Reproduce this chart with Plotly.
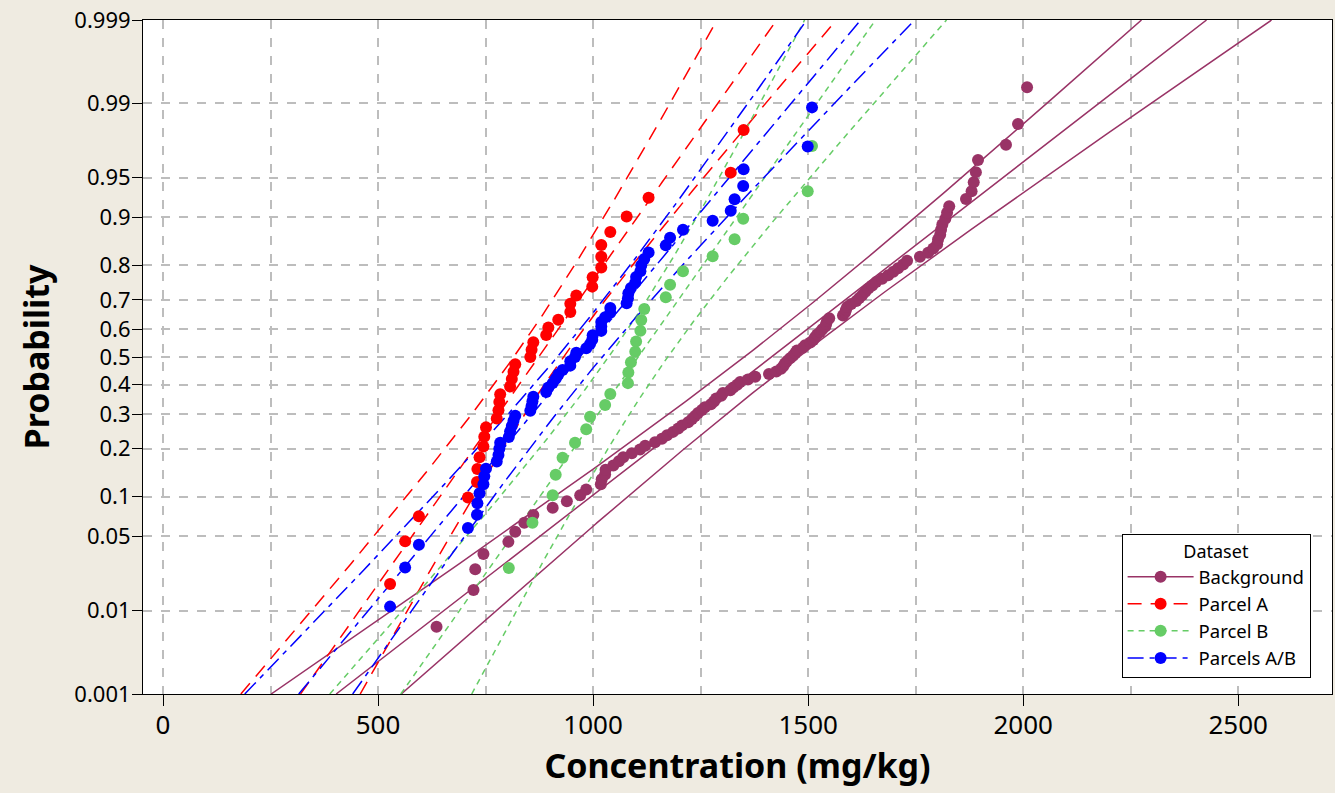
import numpy as np
import plotly.graph_objects as go
from statistics import NormalDist

nd = NormalDist()

# concentrations (mg/kg)
background = [636, 722, 726, 745, 803, 819, 840, 861, 906, 939,
              970, 984, 1018, 1020, 1028, 1029, 1047, 1060, 1070, 1090,
              1109, 1121, 1144, 1160, 1172, 1186, 1198, 1207, 1221, 1230,
              1237, 1244, 1253, 1260, 1274, 1281, 1286, 1298, 1302, 1319,
              1326, 1335, 1342, 1360, 1377, 1409, 1426, 1437, 1442, 1446,
              1451, 1458, 1465, 1470, 1474, 1488, 1493, 1505, 1512, 1516,
              1521, 1528, 1533, 1540, 1542, 1544, 1549, 1581, 1586, 1588,
              1591, 1600, 1612, 1619, 1626, 1633, 1640, 1649, 1658, 1672,
              1686, 1698, 1709, 1721, 1730, 1760, 1779, 1791, 1800, 1802,
              1807, 1809, 1812, 1819, 1823, 1828, 1867, 1880, 1885, 1890,
              1895, 1960, 1988, 2009]
parcel_a = [528, 563, 595, 709, 730, 731, 736, 745, 747, 751,
            776, 780, 782, 784, 807, 811, 815, 819, 854, 857,
            861, 891, 896, 919, 947, 947, 961, 998, 999, 1019,
            1019, 1019, 1040, 1078, 1129, 1320, 1350]
parcel_b = [804, 859, 906, 913, 929, 958, 984, 993, 1028, 1040,
            1081, 1082, 1088, 1098, 1100, 1110, 1112, 1119, 1169, 1179,
            1209, 1278, 1329, 1349, 1499, 1509]
parcels_ab = parcel_a + parcel_b

prob_ticks = [0.001, 0.01, 0.05, 0.1, 0.2, 0.3, 0.4, 0.5, 0.6, 0.7, 0.8, 0.9, 0.95, 0.99, 0.999]
prob_labels = ["0.001", "0.01", "0.05", "0.1", "0.2", "0.3", "0.4", "0.5",
               "0.6", "0.7", "0.8", "0.9", "0.95", "0.99", "0.999"]
x_ticks = [0, 500, 1000, 1500, 2000, 2500]

z_lo, z_hi = nd.inv_cdf(0.001), nd.inv_cdf(0.999)


def plot_positions(vals):
    # median ranks (Benard)
    v = np.sort(np.asarray(vals, float))
    n = len(v)
    p = (np.arange(1, n + 1) - 0.3) / (n + 0.4)
    return v, [nd.inv_cdf(q) for q in p]


def fit_lines(vals):
    v = np.asarray(vals, float)
    n = len(v)
    mu, sd = v.mean(), v.std(ddof=1)
    z = np.linspace(z_lo, z_hi, 300)
    mid = mu + z * sd
    half = 1.96 * sd * np.sqrt((1 + z ** 2 / 2) / n)
    return z, mid, mid - half, mid + half


datasets = [
    ("Background", background, "#993366", "solid", 1.5),
    ("Parcel A", parcel_a, "#ff0000", "14px,9px", 1.5),
    ("Parcel B", parcel_b, "#66cc66", "6px,5px", 1.5),
    ("Parcels A/B", parcels_ab, "#0000ff", "16px,6px,5px,6px", 1.5),
]

fig = go.Figure()

for name, vals, color, dash, lw in datasets:
    z, mid, lo, hi = fit_lines(vals)
    for xs in (mid, lo, hi):
        fig.add_trace(go.Scatter(x=xs, y=z, mode="lines", showlegend=False,
                                 line=dict(color=color, width=lw, dash=dash),
                                 hoverinfo="skip"))

for name, vals, color, dash, lw in datasets:
    xs, zs = plot_positions(vals)
    fig.add_trace(go.Scatter(x=xs, y=zs, mode="markers", showlegend=False,
                             marker=dict(color=color, size=12), name=name))
    # legend entry
    fig.add_trace(go.Scatter(x=[None], y=[None], mode="lines+markers", name=name,
                             marker=dict(color=color, size=12),
                             line=dict(color=color, width=lw, dash=dash)))

grid = "#bdbdbd"
bg = "#efebe1"
fig.update_layout(
    width=1335, height=793,
    margin=dict(l=143, r=3, t=20, b=99),
    paper_bgcolor=bg,
    plot_bgcolor="white",
    font=dict(family="Noto Sans, DejaVu Sans, sans-serif", color="black"),
    legend=dict(
        title=dict(text="Dataset", side="top center", font=dict(size=18)),
        font=dict(size=18.5),
        x=0.982, y=0.024, xanchor="right", yanchor="bottom",
        bgcolor="white", bordercolor="black", borderwidth=1,
        itemwidth=66,
    ),
)
fig.update_xaxes(
    range=[-46.5, 2718], tickvals=x_ticks, ticks="outside", ticklen=11,
    tickcolor="black", tickfont=dict(size=26), automargin=False, ticklabelstandoff=-3,
    showline=True, linecolor="black", mirror=True, zeroline=False,
    showgrid=True, gridcolor=grid, griddash="dash", gridwidth=1.5,
    minor=dict(dtick=250, tick0=0, showgrid=True, gridcolor=grid, griddash="dash", gridwidth=1.5),
    title=dict(text="<b>Concentration (mg/kg)</b>", font=dict(size=34), standoff=11),
)
fig.update_yaxes(
    range=[z_lo, z_hi], tickvals=[nd.inv_cdf(p) for p in prob_ticks], ticktext=prob_labels,
    ticks="outside", ticklen=10, tickcolor="black", tickfont=dict(size=22), automargin=False,
    ticklabelstandoff=-3,
    showline=True, linecolor="black", mirror=True, zeroline=False,
    showgrid=True, gridcolor=grid, griddash="dash", gridwidth=1.5,
    title=dict(text="<b>Probability</b>", font=dict(size=34), standoff=14),
)

fig.write_html("out.html", config={"displayModeBar": False},
               post_script="document.body.style.margin='0';"
                           "document.body.style.background='%s';" % bg)
